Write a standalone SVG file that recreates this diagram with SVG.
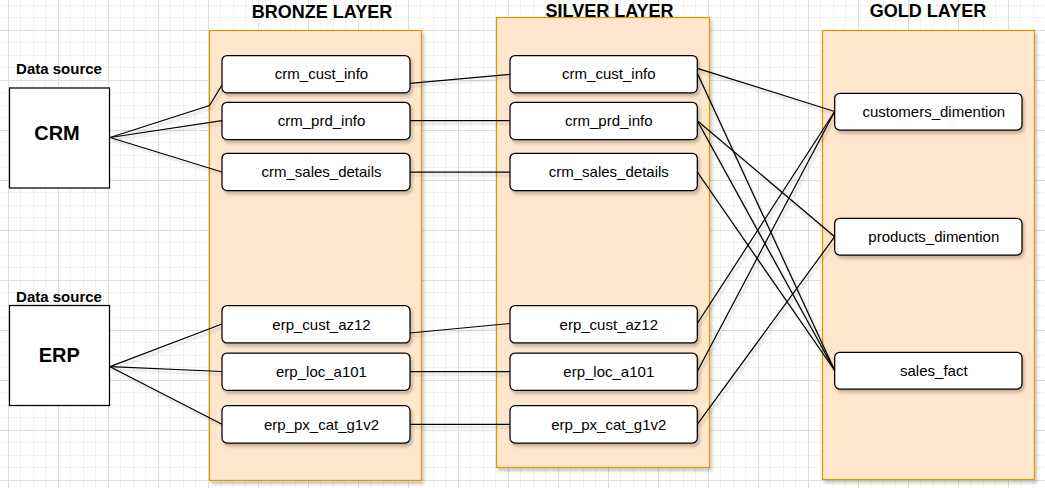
<svg xmlns="http://www.w3.org/2000/svg" width="1045" height="488" viewBox="0 0 1045 488">
  <defs>
    <pattern id="grid" patternUnits="userSpaceOnUse" x="8" y="30" width="50" height="50">
      <rect x="12" y="0" width="1" height="50" fill="#f1f1f1"/>
      <rect x="25" y="0" width="1" height="50" fill="#f1f1f1"/>
      <rect x="37" y="0" width="1" height="50" fill="#f1f1f1"/>
      <rect x="0" y="12" width="50" height="1" fill="#f1f1f1"/>
      <rect x="0" y="25" width="50" height="1" fill="#f1f1f1"/>
      <rect x="0" y="37" width="50" height="1" fill="#f1f1f1"/>
      <rect x="0" y="0" width="1" height="50" fill="#dedede"/>
      <rect x="0" y="0" width="50" height="1" fill="#dedede"/>
    </pattern>
    <filter id="shadow" x="-10%" y="-10%" width="130%" height="130%">
      <feDropShadow dx="2" dy="3" stdDeviation="1.6" flood-color="#000" flood-opacity="0.22"/>
    </filter>
    <filter id="lshadow" x="-10%" y="-10%" width="130%" height="130%">
      <feDropShadow dx="2" dy="3" stdDeviation="1.2" flood-color="#000" flood-opacity="0.18"/>
    </filter>
  </defs>
  <style>
    .layer { fill: #ffe6cc; stroke: #d79b00; stroke-width: 1.25; filter: url(#shadow); }
    .node { fill: #ffffff; stroke: #000000; stroke-width: 1.25; filter: url(#shadow); }
    .src { fill: #ffffff; stroke: #000000; stroke-width: 1.25; }
    .edge { fill: none; stroke: #000000; stroke-width: 1.25; }
    .lbl { font-family: "Liberation Sans", Arial, sans-serif; font-size: 15px; fill: #000; text-anchor: middle; }
    .title { font-family: "Liberation Sans", Arial, sans-serif; font-size: 18px; font-weight: bold; fill: #000; text-anchor: middle; }
    .ds { font-family: "Liberation Sans", Arial, sans-serif; font-size: 15px; font-weight: bold; fill: #000; text-anchor: middle; }
    .big { font-family: "Liberation Sans", Arial, sans-serif; font-size: 20px; font-weight: bold; fill: #000; text-anchor: middle; }
  </style>

  <rect x="0" y="0" width="1045" height="488" fill="#ffffff"/>
  <rect x="0" y="0" width="1045" height="488" fill="url(#grid)"/>

  <!-- layers -->
  <g id="bronze-layer">
    <rect class="layer" x="209.5" y="30.5" width="212" height="450"/>
    <text class="title" x="322" y="17.7">BRONZE LAYER</text>
  </g>
  <g id="silver-layer">
    <rect class="layer" x="496.5" y="17.5" width="213" height="450"/>
    <text class="title" x="609.5" y="16.7">SILVER LAYER</text>
  </g>
  <g id="gold-layer">
    <rect class="layer" x="822.5" y="30.5" width="212" height="449"/>
    <text class="title" x="928" y="17.3">GOLD LAYER</text>
  </g>

  <!-- connectors -->
  <g id="connectors" filter="url(#lshadow)">
    <path class="edge" d="M110,137.5 L209.5,105.5 L222,85"/>
    <path class="edge" d="M110,137.5 L222,120.7"/>
    <path class="edge" d="M110,137.5 L222,172"/>
    <path class="edge" d="M110,366.7 L222,324"/>
    <path class="edge" d="M110,366.7 L222,371.5"/>
    <path class="edge" d="M110,366.7 L222,424.3"/>

    <path class="edge" d="M410,83.3 L510,74.3"/>
    <path class="edge" d="M410,120.7 L510,120.7"/>
    <path class="edge" d="M410,172 L510,172"/>
    <path class="edge" d="M410,333 L510,323.5"/>
    <path class="edge" d="M410,371.5 L510,371.5"/>
    <path class="edge" d="M410,424.3 L510,424.3"/>

    <path class="edge" d="M697.3,68.3 L834.7,111.5"/>
    <path class="edge" d="M697.3,73.3 L834.7,370.5"/>
    <path class="edge" d="M697.3,120.7 L834.7,236.7"/>
    <path class="edge" d="M697.3,120.7 L834.7,370.5"/>
    <path class="edge" d="M697.3,172 L834.7,370.5"/>
    <path class="edge" d="M697.3,323.5 L834.7,111.5"/>
    <path class="edge" d="M697.3,371.5 L834.7,111.5"/>
    <path class="edge" d="M697.3,424.3 L834.7,236.7"/>
  </g>

  <!-- sources -->
  <g id="src-crm">
    <text class="ds" x="59" y="74">Data source</text>
    <rect class="src" x="9.5" y="88" width="100" height="100"/>
    <text class="big" x="57" y="140">CRM</text>
  </g>
  <g id="src-erp">
    <text class="ds" x="59" y="302">Data source</text>
    <rect class="src" x="9.5" y="305.5" width="100" height="100"/>
    <text class="big" x="59.2" y="362.3">ERP</text>
  </g>

  <!-- bronze nodes -->
  <g id="b-crm-cust-info">
    <rect class="node" x="222" y="55.5" width="188" height="37.3" rx="5"/>
    <text class="lbl" x="321.5" y="79.4">crm_cust_info</text>
  </g>
  <g id="b-crm-prd-info">
    <rect class="node" x="222" y="102.3" width="188" height="37.3" rx="5"/>
    <text class="lbl" x="321.5" y="126.2">crm_prd_info</text>
  </g>
  <g id="b-crm-sales-details">
    <rect class="node" x="222" y="153.3" width="188" height="37.3" rx="5"/>
    <text class="lbl" x="321.5" y="177.2">crm_sales_details</text>
  </g>
  <g id="b-erp-cust-az12">
    <rect class="node" x="222" y="305.6" width="188" height="37.3" rx="5"/>
    <text class="lbl" x="321.5" y="329.5">erp_cust_az12</text>
  </g>
  <g id="b-erp-loc-a101">
    <rect class="node" x="222" y="353" width="188" height="37.3" rx="5"/>
    <text class="lbl" x="321.5" y="376.9">erp_loc_a101</text>
  </g>
  <g id="b-erp-px-cat-g1v2">
    <rect class="node" x="222" y="405.7" width="188" height="37.3" rx="5"/>
    <text class="lbl" x="321.5" y="429.6">erp_px_cat_g1v2</text>
  </g>

  <!-- silver nodes -->
  <g id="s-crm-cust-info">
    <rect class="node" x="510" y="55.5" width="187.3" height="37.3" rx="5"/>
    <text class="lbl" x="608.8" y="79.4">crm_cust_info</text>
  </g>
  <g id="s-crm-prd-info">
    <rect class="node" x="510" y="102.3" width="187.3" height="37.3" rx="5"/>
    <text class="lbl" x="608.8" y="126.2">crm_prd_info</text>
  </g>
  <g id="s-crm-sales-details">
    <rect class="node" x="510" y="153.3" width="187.3" height="37.3" rx="5"/>
    <text class="lbl" x="608.8" y="177.2">crm_sales_details</text>
  </g>
  <g id="s-erp-cust-az12">
    <rect class="node" x="510" y="305.6" width="187.3" height="37.3" rx="5"/>
    <text class="lbl" x="608.8" y="329.5">erp_cust_az12</text>
  </g>
  <g id="s-erp-loc-a101">
    <rect class="node" x="510" y="353" width="187.3" height="37.3" rx="5"/>
    <text class="lbl" x="608.8" y="376.9">erp_loc_a101</text>
  </g>
  <g id="s-erp-px-cat-g1v2">
    <rect class="node" x="510" y="405.7" width="187.3" height="37.3" rx="5"/>
    <text class="lbl" x="608.8" y="429.6">erp_px_cat_g1v2</text>
  </g>

  <!-- gold nodes -->
  <g id="g-customers-dimention">
    <rect class="node" x="834.7" y="93.3" width="187.3" height="36.7" rx="5"/>
    <text class="lbl" x="933.8" y="117">customers_dimention</text>
  </g>
  <g id="g-products-dimention">
    <rect class="node" x="834.7" y="218.3" width="187.3" height="36.7" rx="5"/>
    <text class="lbl" x="933.8" y="242">products_dimention</text>
  </g>
  <g id="g-sales-fact">
    <rect class="node" x="834.7" y="352.3" width="187.3" height="36.7" rx="5"/>
    <text class="lbl" x="933.8" y="376">sales_fact</text>
  </g>
</svg>
